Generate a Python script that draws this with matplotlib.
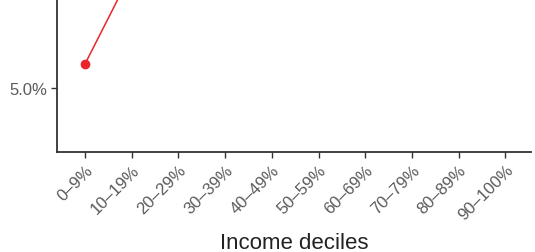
import matplotlib
matplotlib.use("Agg")
import matplotlib.pyplot as plt
from matplotlib.ticker import FuncFormatter

plt.rcParams['font.family'] = ['Liberation Sans', 'DejaVu Sans']

deciles = ['0–9%', '10–19%', '20–29%', '30–39%', '40–49%',
           '50–59%', '60–69%', '70–79%', '80–89%', '90–100%']
# only the first point is inside the visible window, the rest run off the top
share = [5.6, 7.9, 10.4, 12.1, 13.5, 14.6, 15.8, 17.0, 18.3, 20.5]

fig = plt.figure(figsize=(5.35, 2.53), dpi=100)
# the panel is cut at the top: the axes reach past the figure edge
ax = fig.add_axes([57 / 535, 100 / 253, (531 - 57) / 535, 1.0])

x = list(range(len(deciles)))
ax.plot(x, share, color='#e8262b', lw=1.1, marker='o', ms=6, zorder=3)

ax.set_xlim(-0.6, 9.55)
ax.set_ylim(3.4, 9.725)
ax.set_yticks([5.0])
ax.yaxis.set_major_formatter(FuncFormatter(lambda v, p: f'{v:.1f}%'))

ax.set_xticks(x)
ax.set_xticklabels(deciles, rotation=45, ha='right', va='top',
                   rotation_mode='anchor')

for s in ['top', 'right']:
    ax.spines[s].set_visible(False)
for s in ['left', 'bottom']:
    ax.spines[s].set_color('#333333')
    ax.spines[s].set_linewidth(1.3)

ax.tick_params(axis='both', colors='#333333', length=4, width=1,
               labelsize=12, labelcolor='#5a5a5a', pad=3)
ax.set_xlabel('Income deciles', fontsize=16, color='#222222', labelpad=7)

fig.savefig('out.png', dpi=100)
